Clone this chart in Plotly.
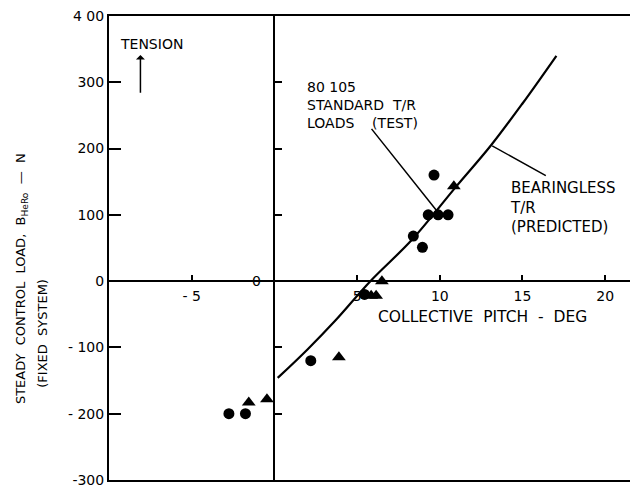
import plotly.graph_objects as go

# Data
curve_x = [0.2, 2.0, 3.7, 5.8, 8.3, 10.9, 13.1, 15.0, 17.05]
curve_y = [-146, -103, -59, 0, 62, 140, 205, 268, 340]

circle_x = [-2.75, -1.75, 2.2, 5.45, 8.4, 8.95, 9.3, 9.65, 9.9, 10.5]
circle_y = [-200, -200, -120, -20, 68, 51, 100, 160, 100, 100]

tri_x = [-1.55, -0.45, 3.9, 5.85, 6.15, 6.5, 10.85]
tri_y = [-183, -178, -115, -22, -22, 0, 143]

y_ticks = [-300, -200, -100, 0, 100, 200, 300, 400]
y_ticktext = ["-300", "- 200", "- 100", "0", "100", "200", "300", "4 00"]
x_ticks = [-5, 5, 10, 15, 20]
x_ticktext = ["- 5", "5", "10", "15", "20"]
inner_y_ticks = [-200, -100, 100, 200, 300]

X_RANGE = [-10, 21.5]
Y_RANGE = [-300, 400]

FONT = "DejaVu Sans"

fig = go.Figure()
fig.add_trace(go.Scatter(x=curve_x, y=curve_y, mode="lines", line=dict(color="black", width=2.2, shape="spline"),
                         hoverinfo="skip", showlegend=False))
fig.add_trace(go.Scatter(x=circle_x, y=circle_y, mode="markers",
                         marker=dict(symbol="circle", size=11, color="black"), showlegend=False))
fig.add_trace(go.Scatter(x=tri_x, y=tri_y, mode="markers",
                         marker=dict(symbol="triangle-up", size=12, color="black"), showlegend=False))
# invisible trace on the inner axes so they are drawn
fig.add_trace(go.Scatter(x=[0], y=[0], xaxis="x2", yaxis="y2", mode="markers",
                         marker=dict(opacity=0), hoverinfo="skip", showlegend=False))

x0_pos = (0 - X_RANGE[0]) / (X_RANGE[1] - X_RANGE[0])
y0_pos = (0 - Y_RANGE[0]) / (Y_RANGE[1] - Y_RANGE[0])

fig.update_layout(
    width=631, height=488,
    margin=dict(l=109, r=1, t=16, b=8),
    paper_bgcolor="white", plot_bgcolor="white",
    font=dict(family=FONT, size=13, color="black"),
    xaxis=dict(range=X_RANGE, showline=True, mirror=True, linecolor="black", linewidth=2,
               showgrid=False, zeroline=False, ticks="", showticklabels=False, fixedrange=True),
    yaxis=dict(range=Y_RANGE, showline=True, mirror=False, linecolor="black", linewidth=2,
               showgrid=False, zeroline=False, ticks="inside", ticklen=12, tickwidth=1.5,
               tickcolor="black", tickvals=y_ticks, ticktext=y_ticktext,
               tickfont=dict(family=FONT, size=14, color="black"), fixedrange=True),
    xaxis2=dict(range=X_RANGE, overlaying="x", anchor="free", position=y0_pos, side="bottom",
                showline=True, linecolor="black", linewidth=2, showgrid=False, zeroline=False,
                ticks="inside", ticklen=5, tickwidth=1.5, tickcolor="black",
                tickvals=x_ticks, ticktext=x_ticktext, tickfont=dict(family=FONT, size=14, color="black"),
                ticklabelstandoff=2, fixedrange=True),
    yaxis2=dict(range=Y_RANGE, overlaying="y", anchor="free", position=x0_pos, side="left",
                showline=True, linecolor="black", linewidth=2, showgrid=False, zeroline=False,
                ticks="inside", ticklen=7, tickwidth=1.5, tickcolor="black",
                tickvals=inner_y_ticks, showticklabels=False, fixedrange=True),
)

ann = []
# origin "0" label for x axis
ann.append(dict(x=0, y=0, xref="x", yref="y", text="0", showarrow=False, xanchor="right",
                yanchor="middle", xshift=-11, font=dict(size=14)))
# y-axis title (two lines)
ann.append(dict(x=-0.169, y=0.435, xref="paper", yref="paper",
                text="STEADY  CONTROL  LOAD,  B<sub>HeRo</sub>  —  N", textangle=-90,
                showarrow=False, xanchor="center", yanchor="middle", font=dict(size=13)))
ann.append(dict(x=-0.127, y=0.317, xref="paper", yref="paper",
                text="(FIXED  SYSTEM)", textangle=-90,
                showarrow=False, xanchor="center", yanchor="middle", font=dict(size=13)))
# x-axis title
ann.append(dict(x=0.716, y=0.351, xref="paper", yref="paper", text="COLLECTIVE  PITCH  -  DEG",
                showarrow=False, xanchor="center", yanchor="middle", font=dict(size=15.5)))
# TENSION
ann.append(dict(x=0.017, y=0.94, xref="paper", yref="paper", text="TENSION",
                showarrow=False, xanchor="left", yanchor="middle", font=dict(size=14)))
ann.append(dict(x=-8.1, y=341, xref="x", yref="y", ax=-8.1, ay=282, axref="x", ayref="y",
                text="", showarrow=True, arrowhead=1, arrowsize=1, arrowwidth=1.5, arrowcolor="black"))
# 80 105 block
ann.append(dict(x=0.376, y=0.868, xref="paper", yref="paper",
                text="80 105<br>STANDARD  T/R<br>LOADS    (TEST)", align="left",
                showarrow=False, xanchor="left", yanchor="top", font=dict(size=14)))
ann.append(dict(x=9.79, y=107, xref="x", yref="y", ax=5.8, ay=232, axref="x", ayref="y",
                text="", showarrow=True, arrowhead=0, arrowwidth=1.5, arrowcolor="black"))
# Bearingless block
ann.append(dict(x=0.766, y=0.652, xref="paper", yref="paper",
                text="BEARINGLESS<br>T/R<br>(PREDICTED)", align="left",
                showarrow=False, xanchor="left", yanchor="top", font=dict(size=15)))
ann.append(dict(x=13.17, y=204, xref="x", yref="y", ax=16.5, ay=158, axref="x", ayref="y",
                text="", showarrow=True, arrowhead=0, arrowwidth=1.5, arrowcolor="black"))

fig.update_layout(annotations=ann)
fig.write_html("out.html")
